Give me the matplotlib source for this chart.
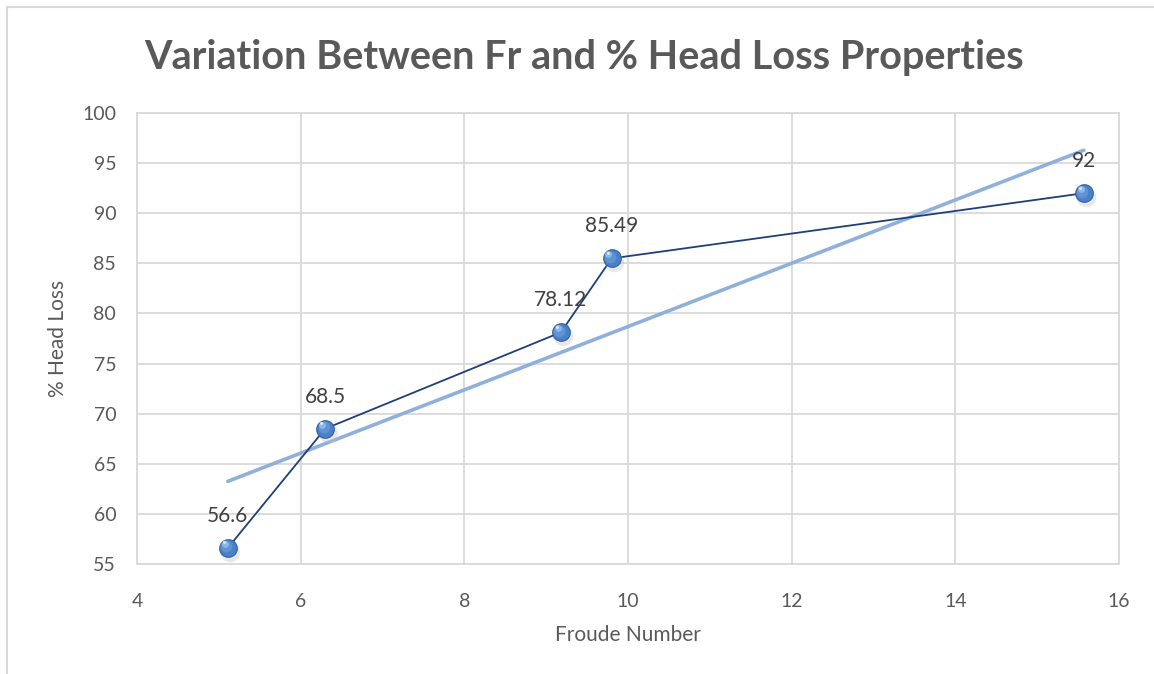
import numpy as np
import matplotlib.pyplot as plt
from matplotlib.patches import Rectangle

froude = [5.11, 6.30, 9.18, 9.80, 15.57]
head_loss = [56.6, 68.5, 78.12, 85.49, 92]
labels = ["56.6", "68.5", "78.12", "85.49", "92"]

plt.rcParams['font.family'] = ['Lato', 'DejaVu Sans']
txt = '#595959'

fig = plt.figure(figsize=(11.54, 6.74), dpi=100)
ax = fig.add_axes([0.1187, 0.1632, 0.8510, 0.6691])

# chart frame
fig.patches.append(Rectangle((7 / 1154, -0.1), 1.2, 1 - 7 / 674 + 0.1,
                             transform=fig.transFigure, fill=False,
                             edgecolor='#D9D9D9', linewidth=1.5))

# linear trend
k, b = np.polyfit(froude, head_loss, 1)
xt = np.array([min(froude), max(froude)])
ax.plot(xt, k * xt + b, color='#8EB0DA', linewidth=2.6, solid_capstyle='round', zorder=3)

ax.plot(froude, head_loss, color='#1F3F7A', linewidth=1.3, zorder=4)

# shaded round markers
fx = np.array(froude)
hy = np.array(head_loss)
ax.plot(fx + 0.03, hy - 0.4, 'o', ms=14, color='#BFBFBF',
        alpha=0.35, markeredgewidth=0, zorder=4)
ax.plot(fx, hy, 'o', ms=13.5, color='#2F5E9E', markeredgewidth=0, zorder=5)
ax.plot(fx, hy, 'o', ms=12, color='#4A80C6', markeredgewidth=0, zorder=6)
ax.plot(fx - 0.02, hy + 0.15, 'o', ms=8.5, color='#5E93D6', markeredgewidth=0, zorder=7)
ax.plot(fx - 0.04, hy + 0.4, 'o', ms=5, color='#8DB6E8', markeredgewidth=0, zorder=8)
ax.plot(fx - 0.05, hy + 0.55, 'o', ms=2.2, color='#D6E6F8', markeredgewidth=0, zorder=9)

for x, y, s in zip(froude, head_loss, labels):
    ax.annotate(s, (x, y), xytext=(0, 23), textcoords='offset points',
                ha='center', va='center', fontsize=15, color='#404040', zorder=10)

ax.set_xlim(4, 16)
ax.set_ylim(55, 100)
ax.set_xticks(range(4, 17, 2))
ax.set_yticks(range(55, 101, 5))
ax.grid(True, color='#D9D9D9', linewidth=1.3)
ax.set_axisbelow(True)
for sp in ax.spines.values():
    sp.set_color('#D9D9D9')
    sp.set_linewidth(1.3)
ax.tick_params(length=0, labelsize=14, labelcolor=txt)
ax.tick_params(axis='x', pad=21)
ax.tick_params(axis='y', pad=15)

ax.set_xlabel('Froude Number', fontsize=15, color=txt, labelpad=11)
ax.set_ylabel('% Head Loss', fontsize=15, color=txt, labelpad=10)
fig.text(0.506, 0.915, 'Variation Between Fr and % Head Loss Properties',
         ha='center', va='center', fontsize=28.5, fontweight='bold', color=txt)

fig.savefig('out.png', dpi=100)
